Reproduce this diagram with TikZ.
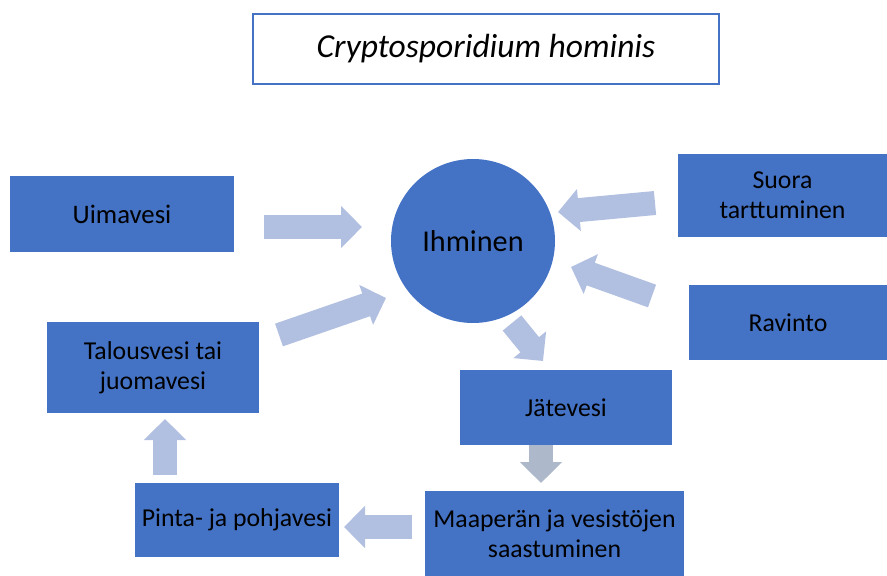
\documentclass[tikz,border=0pt]{standalone}
\usepackage{fontspec}
\setmainfont{Carlito}
\usepackage{tikz}
\usetikzlibrary{arrows.meta, positioning}

\definecolor{boxblue}{HTML}{4472C4}
\definecolor{arrowblue}{HTML}{B1BFE0}
\definecolor{arrowgrey}{HTML}{ADB9CA}

\begin{document}
\begin{tikzpicture}[x=0.3mm, y=-0.3mm,
        box/.style={rectangle, fill=boxblue, outer sep=0pt, align=center, text=black, font=\fontsize{22}{26}\selectfont},
        arr/.style={draw=arrowblue, line width=7.2mm, -{Triangle[length=6.3mm, width=12.3mm]}}]
        \useasboundingbox (0,0) rectangle (887,576);
        % title
        \node[draw=boxblue, line width=0.6mm, fill=white, minimum width=139.8mm, minimum height=21mm, font=\fontsize{28.6}{32}\selectfont\itshape] (title) at (486,49) {Cryptosporidium hominis};
        % nodes
        \node[circle, fill=boxblue, minimum size=49.2mm, font=\fontsize{25.8}{30}\selectfont] (ihminen) at (473,241) {Ihminen};
        \node[box, minimum width=67.2mm, minimum height=22.8mm, font=\fontsize{22.8}{26}\selectfont] (uimavesi) at (122,214) {Uimavesi};
        \node[box, minimum width=62.7mm, minimum height=24.9mm] (suora) at (782.5,195.5) {Suora\\tarttuminen};
        \node[box, minimum width=59.4mm, minimum height=22.5mm] (ravinto) at (788,322.5) {Ravinto};
        \node[box, minimum width=63.6mm, minimum height=27.3mm] (talous) at (153,367.5) {Talousvesi tai\\juomavesi};
        \node[box, minimum width=63.6mm, minimum height=22.5mm] (jatevesi) at (566,407.5) {Jätevesi};
        \node[box, minimum width=77.7mm, minimum height=25.5mm] (maapera) at (554.5,533.5) {Maaperän ja vesistöjen\\saastuminen};
        \node[box, minimum width=61.2mm, minimum height=22.2mm] (pinta) at (237,520) {Pinta- ja pohjavesi};
        % arrow ends
        \coordinate (u1) at (264,227);
        \coordinate (u2) at (362,227);
        \coordinate (t1) at (279,335);
        \coordinate (t2) at (386,298);
        \coordinate (s1) at (655,203);
        \coordinate (s2) at (558,212);
        \coordinate (r1) at (652,296);
        \coordinate (r2) at (571,267);
        \coordinate (i1) at (512,323);
        \coordinate (i2) at (543,361);
        \coordinate (j1) at (541,445);
        \coordinate (j2) at (541,483);
        \coordinate (m1) at (412,527);
        \coordinate (m2) at (344,527);
        \coordinate (p1) at (165,475);
        \coordinate (p2) at (165,419);
        % arrows
        \draw[arr] (u1) -- (u2);
        \draw[arr] (t1) -- (t2);
        \draw[arr] (s1) -- (s2);
        \draw[arr] (r1) -- (r2);
        \draw[arr] (i1) -- (i2);
        \draw[arr, draw=arrowgrey] (j1) -- (j2);
        \draw[arr] (m1) -- (m2);
        \draw[arr] (p1) -- (p2);
\end{tikzpicture}
\end{document}
